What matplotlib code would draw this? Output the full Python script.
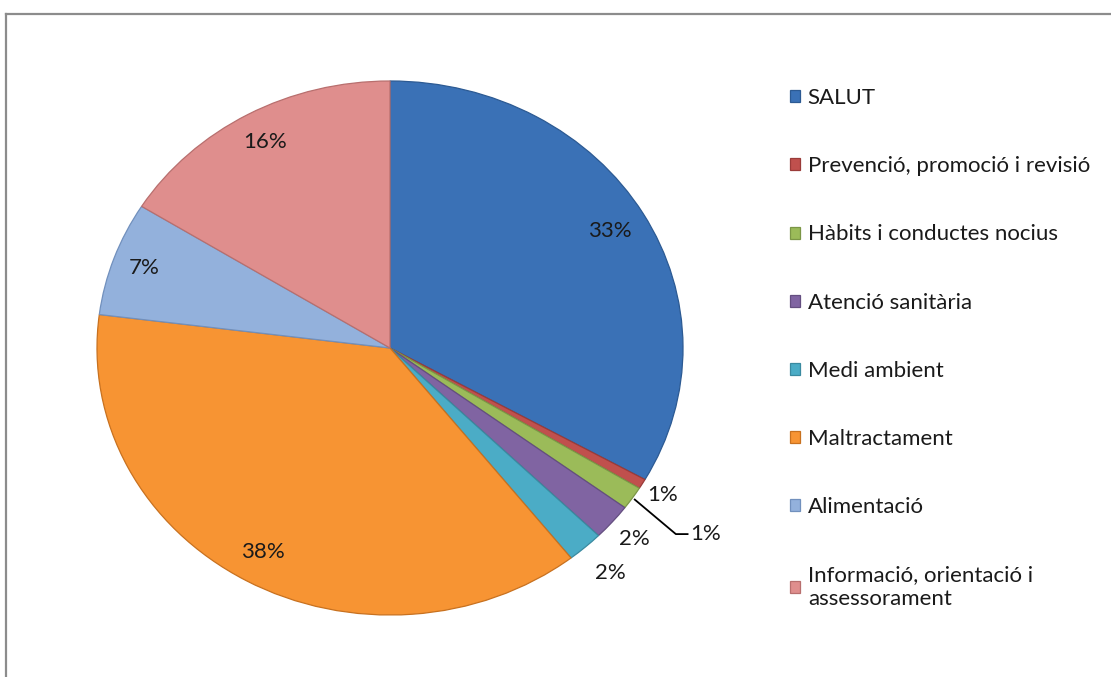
import numpy as np
import matplotlib
matplotlib.use("Agg")
import matplotlib.pyplot as plt
from matplotlib.lines import Line2D

# data (percent of total)
categories = ["SALUT", "Prevenció, promoció i revisió", "Hàbits i conductes nocius",
              "Atenció sanitària", "Medi ambient", "Maltractament", "Alimentació",
              "Informació, orientació i\nassessorament"]
values = [33.2, 0.6, 1.4, 2.2, 2.0, 37.6, 6.9, 16.1]
pct_labels = ["33%", "1%", "1%", "2%", "2%", "38%", "7%", "16%"]

colors = ["#3a71b6", "#c0504d", "#9bbb59", "#8064a2", "#4bacc6", "#f79433", "#93b1dc", "#df8e8d"]
edges = ["#2c5a93", "#9a3b39", "#7b9646", "#644e80", "#3a8aa0", "#c8711f", "#7190bd", "#b86f6e"]
label_r = [0.87, 1.08, 1.24, 1.1, 1.13, 0.88, 0.89, 0.88]

plt.rcParams['font.family'] = ['Lato', 'DejaVu Sans']

W, H = 1111, 677
fig = plt.figure(figsize=(W / 100, H / 100), dpi=100)

# chart frame (only top/left edges visible in the crop)
fig.add_artist(Line2D([6 / W, 1], [1 - 14 / H, 1 - 14 / H], color="#8c8c8c", lw=1.6))
fig.add_artist(Line2D([6 / W, 6 / W], [0, 1 - 14 / H], color="#8c8c8c", lw=1.6))

ax = fig.add_axes([97 / W, 62 / H, 586 / W, 534 / H])
wedges, _ = ax.pie(values, colors=colors, startangle=90, counterclock=False,
                   radius=1, wedgeprops=dict(linewidth=0.9))
for w, ec in zip(wedges, edges):
    w.set_edgecolor(ec)
ax.set_aspect('auto')
ax.set_xlim(-1, 1)
ax.set_ylim(-1, 1)
ax.axis('off')

for i, (w, lab) in enumerate(zip(wedges, pct_labels)):
    mid = np.deg2rad((w.theta1 + w.theta2) / 2)
    r = label_r[i]
    x, y = r * np.cos(mid), r * np.sin(mid)
    if i == 2:
        # leader line for the crowded slice
        ex, ey = np.cos(mid), np.sin(mid)
        ax.plot([ex * 1.01, x - 0.05, x - 0.01], [ey * 1.01, y, y], color="black", lw=1.3, clip_on=False)
        ax.text(x, y, lab, ha="left", va="center", fontsize=16, color="#1a1a1a")
    else:
        ax.text(x, y, lab, ha="center", va="center", fontsize=16, color="#1a1a1a")

fig.legend(wedges, categories, loc="upper left", bbox_to_anchor=(770 / W, 1 - 68 / H),
           frameon=False, fontsize=16, labelcolor="#1a1a1a", handlelength=0.45,
           handleheight=0.45, handletextpad=0.35, labelspacing=2.17)

fig.savefig("out.png", dpi=100)
